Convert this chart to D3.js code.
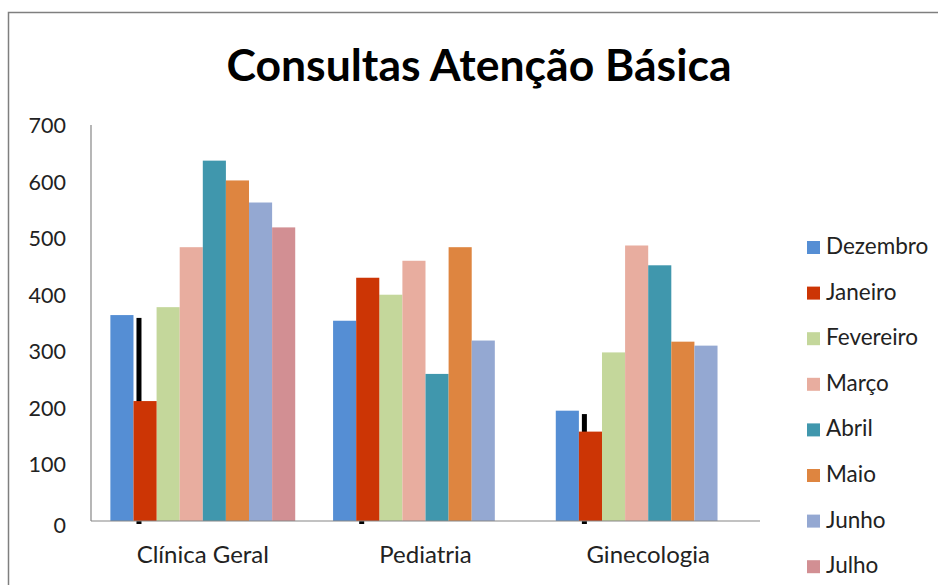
<!DOCTYPE html>
<html>
<head>
<meta charset="utf-8">
<script src="https://cdn.jsdelivr.net/npm/d3@7"></script>
<style>
  body { margin: 0; background: #fff; }
  svg { display: block; font-family: Lato, 'Open Sans', sans-serif; }
</style>
</head>
<body>
<svg id="chart" width="938" height="585"></svg>
<script>
const especialidades = ['Clínica Geral', 'Pediatria', 'Ginecologia'];
const meses = ['Dezembro', 'Janeiro', 'Fevereiro', 'Março', 'Abril', 'Maio', 'Junho', 'Julho'];
const cores = ['#558ed4', '#cc3505', '#c4d79b', '#e8ad9f', '#4097ad', '#de8540', '#94a8d2', '#d28f93'];

const dezembro = [364, 354, 195];
const janeiro = [212, 430, 158];
const fevereiro = [378, 400, 298];
const marco = [484, 460, 487];
const abril = [637, 260, 452];
const maio = [602, 484, 317];
const junho = [563, 319, 310];
const julho = [519, null, null];
// traço preto que aparece atrás da barra de janeiro
const marcaJaneiro = [359, 0, 189];

const yTicks = [0, 100, 200, 300, 400, 500, 600, 700];

const series = [dezembro, janeiro, fevereiro, marco, abril, maio, junho, julho];

const svg = d3.select('#chart');
const width = +svg.attr('width');
const height = +svg.attr('height');

const plot = { left: 91, right: 760, top: 125, bottom: 521 };

// moldura do gráfico
svg.append('rect')
  .attr('x', 8.5)
  .attr('y', 12.5)
  .attr('width', width + 20)
  .attr('height', height + 20)
  .attr('fill', '#fff')
  .attr('stroke', '#7f7f7f')
  .attr('stroke-width', 1.5);

svg.append('text')
  .attr('x', 479)
  .attr('y', 81)
  .attr('text-anchor', 'middle')
  .style('font-size', '44.5px')
  .style('font-weight', 'bold')
  .style('fill', '#000')
  .text('Consultas Atenção Básica');

const y = d3.scaleLinear()
  .domain([0, 700])
  .range([plot.bottom, plot.top]);

const x0 = d3.scaleBand()
  .domain(especialidades)
  .range([plot.left, plot.right])
  .paddingInner(0.17)
  .paddingOuter(0.087);

const x1 = d3.scaleBand()
  .domain(meses)
  .range([0, x0.bandwidth()]);

const color = d3.scaleOrdinal(meses, cores);

const rows = especialidades.map((e, i) => ({
  especialidade: e,
  valores: meses.map((m, j) => ({ mes: m, valor: series[j][i] })).filter(d => d.valor != null)
}));

const groups = svg.append('g')
  .selectAll('g')
  .data(rows)
  .enter()
  .append('g')
  .attr('transform', d => `translate(${x0(d.especialidade)}, 0)`);

groups.selectAll('rect')
  .data(d => d.valores)
  .enter()
  .append('rect')
  .attr('x', d => x1(d.mes))
  .attr('y', d => y(d.valor))
  .attr('width', x1.bandwidth())
  .attr('height', d => y(0) - y(d.valor))
  .attr('fill', d => color(d.mes));

// traço preto junto à barra de janeiro
groups.append('rect')
  .attr('x', (d, i) => x1('Janeiro') + 3)
  .attr('y', (d, i) => y(marcaJaneiro[i]))
  .attr('width', 5)
  .attr('height', (d, i) => y(0) - y(marcaJaneiro[i]) + 3)
  .attr('fill', '#000');

groups.select('rect:nth-child(2)').raise();

// eixos
svg.append('line')
  .attr('x1', plot.left).attr('x2', plot.left)
  .attr('y1', plot.top).attr('y2', plot.bottom)
  .attr('stroke', '#868686')
  .attr('stroke-width', 1.2);

svg.append('line')
  .attr('x1', plot.left).attr('x2', plot.right)
  .attr('y1', plot.bottom).attr('y2', plot.bottom)
  .attr('stroke', '#868686')
  .attr('stroke-width', 1.2);

svg.append('g')
  .selectAll('text')
  .data(yTicks)
  .enter()
  .append('text')
  .attr('x', 66)
  .attr('y', d => y(d) + (d === 0 ? 12 : 8))
  .attr('text-anchor', 'end')
  .style('font-size', '21.5px')
  .style('fill', '#222')
  .text(d => d);

svg.append('g')
  .selectAll('text')
  .data(especialidades)
  .enter()
  .append('text')
  .attr('x', d => x0(d) + x0.bandwidth() / 2)
  .attr('y', 563)
  .attr('text-anchor', 'middle')
  .style('font-size', '24px')
  .style('fill', '#222')
  .text(d => d);

// legenda
const legend = svg.append('g')
  .attr('transform', 'translate(807, 241)')
  .selectAll('g')
  .data(meses)
  .enter()
  .append('g')
  .attr('transform', (d, i) => `translate(0, ${i * 45.6})`);

legend.append('rect')
  .attr('width', 13)
  .attr('height', 13)
  .attr('fill', d => color(d));

legend.append('text')
  .attr('x', 19)
  .attr('y', 13)
  .style('font-size', '22.5px')
  .style('fill', '#222')
  .text(d => d);
</script>
</body>
</html>
